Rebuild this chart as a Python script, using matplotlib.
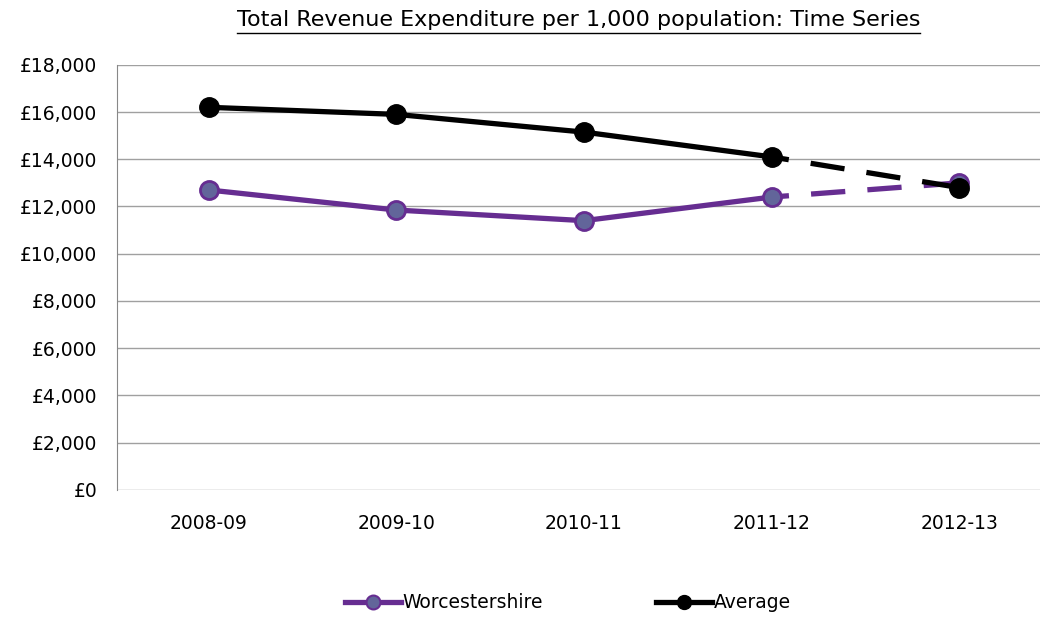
import matplotlib.pyplot as plt
from matplotlib.lines import Line2D

years = ["2008-09", "2009-10", "2010-11", "2011-12", "2012-13"]
worcestershire = [12700, 11850, 11400, 12400, 13000]
average = [16200, 15900, 15150, 14100, 12800]

purple = "#662d91"
purple_face = "#62659a"
dash = (3.2, (6.5, 4.2))

fig = plt.figure(figsize=(10.42, 6.17), dpi=100)
ax = fig.add_axes([0.112, 0.206, 0.886, 0.689])

x = list(range(len(years)))

# solid part up to 2011-12, dashed for the last (provisional) year
ax.plot(x[:4], worcestershire[:4], color=purple, lw=3.8, solid_capstyle="butt", zorder=3)
ax.plot(x[3:], worcestershire[3:], color=purple, lw=3.8, ls=dash, zorder=3)
ax.plot(x, worcestershire, ls="none", marker="o", ms=13, mfc=purple_face,
        mec=purple, mew=2, zorder=4)

ax.plot(x[:4], average[:4], color="black", lw=3.8, solid_capstyle="butt", zorder=5)
ax.plot(x[3:], average[3:], color="black", lw=3.8, ls=dash, zorder=5)
ax.plot(x, average, ls="none", marker="o", ms=14, mfc="black", mec="black", zorder=6)

ax.set_xlim(-0.49, 4.43)
ax.set_ylim(0, 18000)
ax.set_yticks(range(0, 18001, 2000))
ax.set_yticklabels([f"£{v:,}" for v in range(0, 18001, 2000)])
ax.set_xticks(x)
ax.set_xticklabels(years)
ax.tick_params(axis="both", labelsize=13.5, length=0)
ax.tick_params(axis="x", pad=17)
ax.tick_params(axis="y", pad=14)
ax.grid(axis="y", color="#a0a0a0", lw=1)
ax.set_axisbelow(True)
for s in ["top", "right", "bottom"]:
    ax.spines[s].set_visible(False)
ax.spines["left"].set_color("#888888")

title = fig.text(0.555, 0.967, "Total Revenue Expenditure per 1,000 population: Time Series",
                 ha="center", va="center", fontsize=16)
# matplotlib has no underline, so draw one under the title's extent
fig.canvas.draw()
bb = title.get_window_extent().transformed(fig.transFigure.inverted())
fig.add_artist(Line2D([bb.x0, bb.x1], [0.946, 0.946], color="black", lw=1))

handles = [
    Line2D([], [], color=purple, lw=3.8, marker="o", ms=10, mfc=purple_face, mec=purple, mew=1.5),
    Line2D([], [], color="black", lw=3.8, marker="o", ms=10, mfc="black"),
]
fig.legend(handles, ["Worcestershire", "Average"], loc="center", bbox_to_anchor=(0.545, 0.023),
           ncol=2, frameon=False, fontsize=13.5, handlelength=3, handletextpad=0.1,
           columnspacing=6)

fig.savefig("out.png", dpi=100)
